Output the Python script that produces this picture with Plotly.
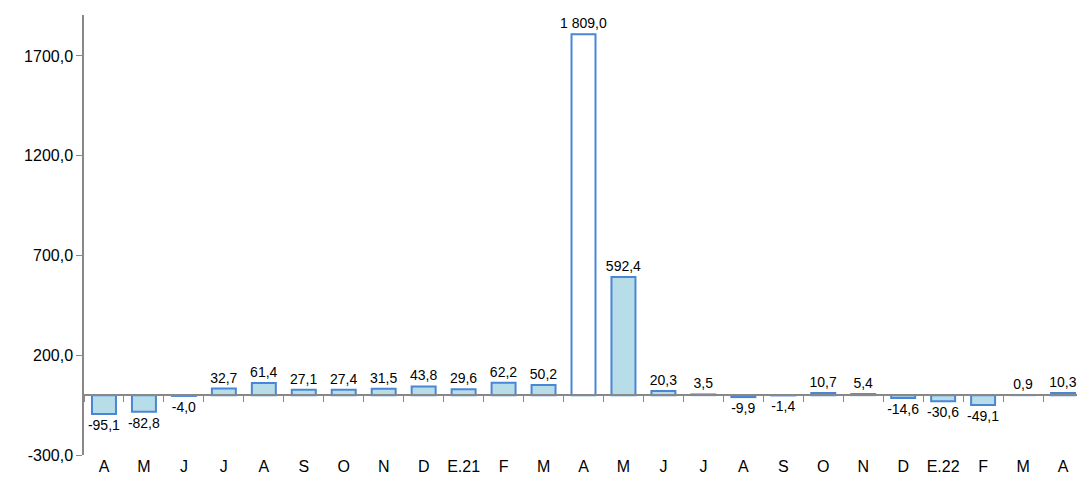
import plotly.graph_objects as go

months = ["A", "M", "J", "J", "A", "S", "O", "N", "D", "E.21", "F", "M",
          "A", "M", "J", "J", "A", "S", "O", "N", "D", "E.22", "F", "M", "A"]
values = [-95.1, -82.8, -4.0, 32.7, 61.4, 27.1, 27.4, 31.5, 43.8, 29.6, 62.2, 50.2,
          1809.0, 592.4, 20.3, 3.5, -9.9, -1.4, 10.7, 5.4, -14.6, -30.6, -49.1, 0.9, 10.3]
highlight = 12  # white bar

y_min, y_max = -300, 1905


def fmt(v):
    s = f"{v:,.1f}".replace(",", " ").replace(".", ",")
    return s


xs = list(range(len(months)))
fills = ["white" if i == highlight else "#b7dde8" for i in xs]

fig = go.Figure()
fig.add_trace(go.Bar(
    x=xs, y=values, marker=dict(color=fills, line=dict(color="#4a86d6", width=2)),
    width=0.6, text=[fmt(v) for v in values], textposition="outside",
    textfont=dict(size=14, color="black"), cliponaxis=False, showlegend=False))
# zero axis line with ticks between categories
fig.add_trace(go.Scatter(x=xs, y=[0] * len(xs), xaxis="x2", mode="lines",
                         line=dict(color="rgba(0,0,0,0)"), showlegend=False, hoverinfo="skip"))

zero_pos = (0 - y_min) / (y_max - y_min)
fig.update_layout(
    width=1085, height=486, margin=dict(l=76, r=10, t=7, b=39, autoexpand=False),
    plot_bgcolor="white", paper_bgcolor="white",
    font=dict(family="Liberation Sans, Arial", size=14, color="black"),
    uniformtext=dict(minsize=14, mode="show"),
    xaxis=dict(tickmode="array", tickvals=xs, ticktext=months, range=[-0.5, len(xs) - 0.5],
               showline=False, showgrid=False, ticks="", zeroline=False, tickfont=dict(size=16),
               automargin=False),
    xaxis2=dict(overlaying="x", anchor="free", position=zero_pos, range=[-0.5, len(xs) - 0.5],
                showline=True, linecolor="#888888", linewidth=1.5, ticks="outside", ticklen=6,
                tickcolor="#888888", tickmode="array", tickvals=[i - 0.5 for i in xs] + [len(xs) - 0.5],
                showticklabels=False, showgrid=False, zeroline=False),
    yaxis=dict(range=[y_min, y_max], tickmode="array", tickvals=[-300, 200, 700, 1200, 1700],
               ticktext=[fmt(v).replace(" ", "") for v in [-300, 200, 700, 1200, 1700]],
               showline=True, linecolor="#888888", linewidth=1.5, ticks="outside", ticklen=6,
               tickcolor="#888888", showgrid=False, zeroline=False, tickfont=dict(size=16),
               automargin=False),
)
fig.write_html("out.html")
